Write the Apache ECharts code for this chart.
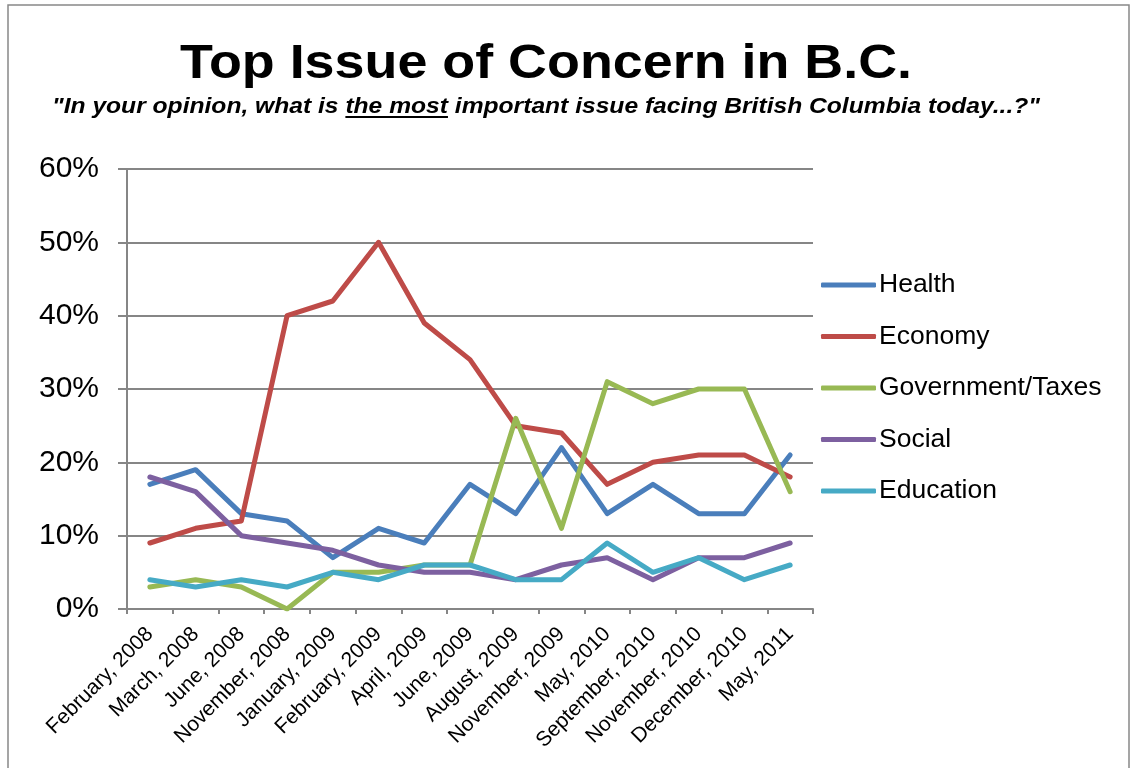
<!DOCTYPE html>
<html>
<head>
<meta charset="utf-8">
<script src="https://cdn.jsdelivr.net/npm/echarts@6/dist/echarts.min.js"></script>
<style>
html, body { margin: 0; padding: 0; background: #fff; }
#main { width: 1134px; height: 768px; }
</style>
</head>
<body>
<div id="main"></div>
<script>
// survey waves
var categories = ['February, 2008', 'March, 2008', 'June, 2008', 'November, 2008', 'January, 2009',
  'February, 2009', 'April, 2009', 'June, 2009', 'August, 2009', 'November, 2009', 'May, 2010',
  'September, 2010', 'November, 2010', 'December, 2010', 'May, 2011']

var health = [17, 19, 13, 12, 7, 11, 9, 17, 13, 22, 13, 17, 13, 13, 21]
var economy = [9, 11, 12, 40, 42, 50, 39, 34, 25, 24, 17, 20, 21, 21, 18]
var govTaxes = [3, 4, 3, 0, 5, 5, 6, 6, 26, 11, 31, 28, 30, 30, 16]
var social = [18, 16, 10, 9, 8, 6, 5, 5, 4, 6, 7, 4, 7, 7, 9]
var education = [4, 3, 4, 3, 5, 4, 6, 6, 4, 4, 9, 5, 7, 4, 6]

var titleText = 'Top Issue of Concern in B.C.'
var subPre = '"In your opinion, what is '
var subMid = 'the most'
var subPost = ' important issue facing British Columbia today...?"'

var font = '"Liberation Sans", Arial, sans-serif'
var titleFont = 'bold 49px ' + font
var subFont = 'italic bold 22px ' + font

// the picture's heading is a bit wider than plain Arial, stretch to fit
var ctx = document.createElement('canvas').getContext('2d')
ctx.font = titleFont
var titleScale = 732 / ctx.measureText(titleText).width
ctx.font = subFont
var wPre = ctx.measureText(subPre).width
var wMid = ctx.measureText(subMid).width
var wAll = ctx.measureText(subPre + subMid + subPost).width
var subScale = 988 / wAll
var subCx = 546
var subX0 = subCx - 988 / 2

function line (name, data, color) {
  return {
    name: name,
    type: 'line',
    data: data,
    symbol: 'none',
    lineStyle: { color: color, width: 5, cap: 'round', join: 'round' },
    itemStyle: { color: color }
  }
}

var chart = echarts.init(document.getElementById('main'))
chart.setOption({
  backgroundColor: '#fff',
  animation: false,
  grid: { left: 127, right: 321, top: 169, bottom: 159 },
  legend: {
    orient: 'vertical',
    left: 816,
    top: 265,
    icon: 'roundRect',
    itemWidth: 55,
    itemHeight: 5,
    itemGap: 21.5,
    textStyle: { fontFamily: font, fontSize: 26.5, color: '#000', lineHeight: 30, padding: [0, 0, 0, -2] },
    data: ['Health', 'Economy', 'Government/Taxes', 'Social', 'Education']
  },
  xAxis: {
    type: 'category',
    data: categories,
    boundaryGap: true,
    axisLine: { lineStyle: { color: '#868686', width: 2 } },
    axisTick: { show: true, interval: 0, length: 5, lineStyle: { color: '#868686', width: 2 } },
    axisLabel: { interval: 0, rotate: 45, margin: 22, fontFamily: font, fontSize: 21, color: '#000' }
  },
  yAxis: {
    type: 'value',
    min: 0,
    max: 60,
    interval: 10,
    axisLine: { show: true, lineStyle: { color: '#868686', width: 2 } },
    axisTick: { show: true, length: 9, lineStyle: { color: '#868686', width: 2 } },
    splitLine: { lineStyle: { color: '#868686', width: 2 } },
    axisLabel: { formatter: '{value}%', margin: 28, fontFamily: font, fontSize: 30, color: '#000' }
  },
  series: [
    line('Health', health, '#4A7EBB'),
    line('Economy', economy, '#BE4B48'),
    line('Government/Taxes', govTaxes, '#98B954'),
    line('Social', social, '#7D60A0'),
    line('Education', education, '#46AAC5')
  ],
  graphic: [
    {
      type: 'rect',
      shape: { x: 8, y: 5, width: 1121, height: 800 },
      style: { fill: 'none', stroke: '#888', lineWidth: 1.5 },
      silent: true
    },
    {
      type: 'text',
      x: 546,
      y: 89,
      scaleX: titleScale,
      style: { text: titleText, font: titleFont, fill: '#000', textAlign: 'center', textVerticalAlign: 'bottom' }
    },
    {
      type: 'text',
      x: subCx,
      y: 118,
      scaleX: subScale,
      style: { text: subPre + subMid + subPost, font: subFont, fill: '#000', textAlign: 'center', textVerticalAlign: 'bottom' }
    },
    {
      type: 'line',
      shape: { x1: subX0 + wPre * subScale, y1: 117, x2: subX0 + (wPre + wMid) * subScale, y2: 117 },
      style: { stroke: '#000', lineWidth: 2 }
    }
  ]
})
</script>
</body>
</html>
